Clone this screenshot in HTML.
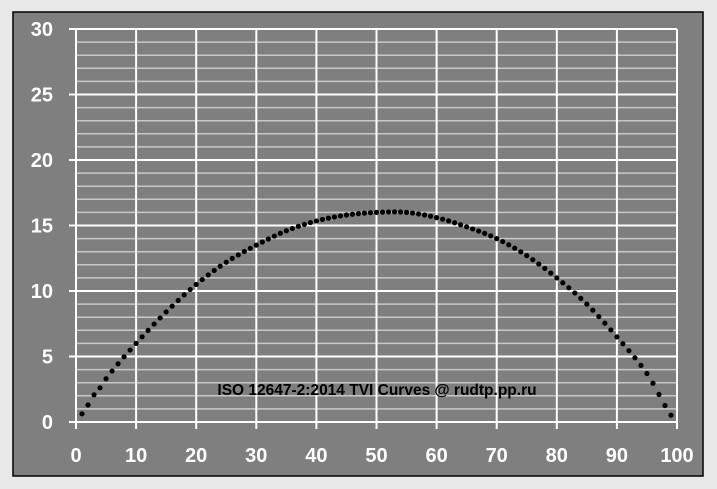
<!DOCTYPE html>
<html><head><meta charset="utf-8"><style>
html,body{margin:0;padding:0;background:#e8e8e8;}
svg{display:block;font-family:"Liberation Sans",sans-serif;}
</style></head><body>
<svg id="s" width="717" height="489" xmlns="http://www.w3.org/2000/svg">
<rect x="13" y="12" width="690" height="464" fill="#7f7f7f" stroke="#000" stroke-width="1.5"/>
<g id="g"></g>
<g fill="#fff" font-size="20" font-weight="bold" text-anchor="end" id="yl"></g>
<g fill="#fff" font-size="20" font-weight="bold" text-anchor="middle" id="xl"></g>
<g id="d" fill="#000"></g>
<text x="377" y="395" font-size="15.5" font-weight="bold" text-anchor="middle" fill="#000">ISO 12647-2:2014 TVI Curves @ rudtp.pp.ru</text>
</svg>
<script>
var NS="http://www.w3.org/2000/svg";
function X(x){return 76+x*6.01;} function Y(v){return 422-v*13.1;}
function el(p,t,a,txt){var e=document.createElementNS(NS,t);for(var k in a)e.setAttribute(k,a[k]);if(txt!=null)e.textContent=txt;document.getElementById(p).appendChild(e);}
for(var i=0;i<=30;i++){var y=Y(i);var maj=i%5==0;
 el("g","line",{x1:maj?X(0)-7:X(0),x2:X(100),y1:y,y2:y,stroke:maj?"#fff":"#c8c8c8","stroke-width":maj?2:1.5});
 if(maj)el("yl","text",{x:53,y:y+7},i);}
for(var j=0;j<=10;j++){var x=X(j*10);
 el("g","line",{x1:x,x2:x,y1:Y(30),y2:Y(0)+7,stroke:"#fff","stroke-width":2});
 el("xl","text",{x:x,y:462},j*10);}
var T=[-0.1,3.3,6.0,8.4,10.5,12.2,13.5,14.6,15.35,15.8,16.0,16.0,15.6,14.9,14.0,12.7,11.0,9.0,6.5,3.7,0];
function f(x){var k=Math.floor(x/5);if(k>=20)k=19;var t=(x-5*k)/5;
 var p0=T[Math.max(k-1,0)],p1=T[k],p2=T[k+1],p3=T[Math.min(k+2,20)];
 return 0.5*((2*p1)+(-p0+p2)*t+(2*p0-5*p1+4*p2-p3)*t*t+(-p0+3*p1-3*p2+p3)*t*t*t);}
for(var x=1;x<=99;x++)el("d","circle",{cx:X(x),cy:Y(f(x)+(x<4?0.25:0)),r:2.6});
</script>
</body></html>
